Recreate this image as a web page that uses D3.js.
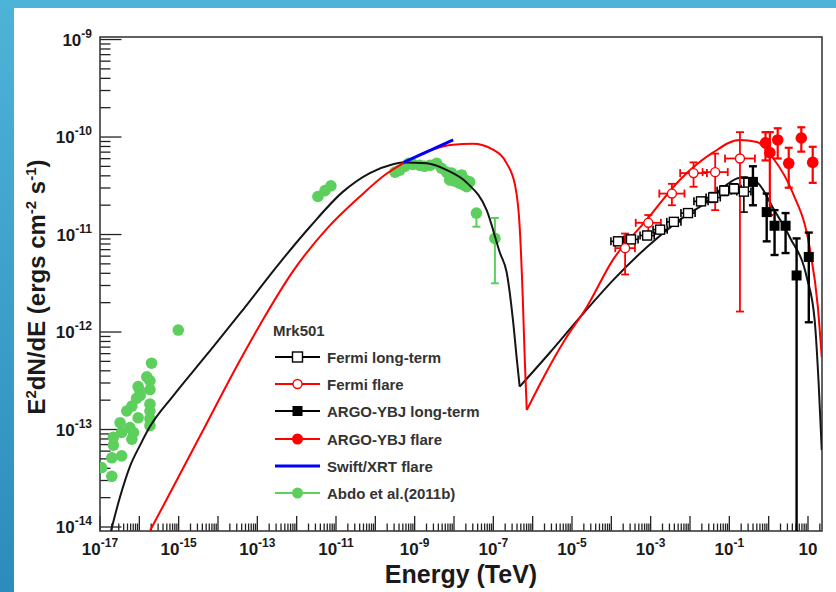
<!DOCTYPE html>
<html><head><meta charset="utf-8">
<script src="https://cdn.jsdelivr.net/npm/d3@7"></script>
<style>
body{margin:0;background:#fff}
svg{display:block}
text{font-family:"Liberation Sans",Arial,Helvetica,sans-serif;font-weight:bold}
</style>
</head><body>
<svg id="c" width="836" height="592"></svg>
<script>
// ---------- data (log10 E [TeV], log10 E^2dN/dE [erg cm^-2 s^-1]) ----------
const xLabelExps = [-17,-15,-13,-11,-9,-7,-5,-3,-1,1];
const yLabelExps = [-14,-13,-12,-11,-10,-9];

const modelLongTerm = [[-16.72,-14.04],[-16.49,-13.69],[-16.24,-13.38],[-15.98,-13.16],[-15.73,-12.97],[-15.15,-12.66],[-14.28,-12.23],[-13.44,-11.81],[-12.43,-11.29],[-11.66,-10.92],[-10.82,-10.56],[-10.14,-10.37],[-9.55,-10.28],[-9.30,-10.26],[-8.69,-10.27],[-8.18,-10.34],[-7.67,-10.47],[-7.17,-10.75],[-6.83,-11.19],[-6.66,-11.39],[-6.50,-11.88],[-6.40,-12.29],[-6.33,-12.56],[-5.56,-12.21],[-4.80,-11.85],[-3.96,-11.47],[-3.10,-11.13],[-2.26,-10.85],[-1.42,-10.62],[-1.07,-10.49],[-0.74,-10.42],[-0.48,-10.42],[-0.23,-10.49],[0.10,-10.72],[0.54,-11.03],[0.97,-11.44],[1.17,-11.88],[1.27,-12.52],[1.35,-13.21]];

const modelFlare = [[-15.73,-14.04],[-15.31,-13.72],[-14.46,-13.07],[-13.44,-12.29],[-12.81,-11.84],[-12.10,-11.38],[-11.23,-10.94],[-10.39,-10.61],[-9.76,-10.39],[-9.25,-10.26],[-8.69,-10.15],[-8.03,-10.08],[-7.52,-10.07],[-7.01,-10.13],[-6.66,-10.27],[-6.45,-10.49],[-6.33,-10.92],[-6.25,-11.67],[-6.20,-12.29],[-6.15,-12.80],[-5.69,-12.44],[-5.18,-12.08],[-4.62,-11.74],[-3.96,-11.26],[-3.10,-10.85],[-2.26,-10.44],[-1.42,-10.16],[-0.74,-10.03],[-0.30,-10.05],[0.10,-10.21],[0.61,-10.57],[1.04,-11.13],[1.25,-11.74],[1.35,-12.26]];

const swiftFlare = [[-9.28,-10.26],[-8.02,-10.03]];

const abdoPoints = [[-15.01,-11.98],[-15.69,-12.32],[-15.81,-12.46],[-15.73,-12.50],[-16.03,-12.56],[-15.73,-12.59],[-15.98,-12.61],[-16.07,-12.68],[-15.98,-12.65],[-15.73,-12.74],[-16.19,-12.76],[-15.73,-12.81],[-16.32,-12.81],[-16.03,-12.88],[-15.73,-12.89],[-16.49,-12.93],[-16.24,-12.98],[-15.73,-12.96],[-16.45,-13.03],[-16.15,-13.03],[-16.66,-13.08],[-16.19,-13.10],[-16.66,-13.16],[-16.45,-13.27],[-16.70,-13.29],[-16.96,-13.39],[-16.70,-13.48],
 [-11.46,-10.61],[-11.28,-10.55],[-11.13,-10.50],
 [-9.50,-10.36],[-9.38,-10.34],[-9.25,-10.30],[-9.15,-10.27],[-9.05,-10.28],[-8.87,-10.29],[-8.75,-10.30],[-8.61,-10.29],[-8.44,-10.27],[-8.32,-10.32],[-8.19,-10.36],[-8.11,-10.44],[-8.06,-10.37],[-8.00,-10.45],[-7.94,-10.41],[-7.88,-10.47],[-7.81,-10.39],[-7.76,-10.49],[-7.72,-10.44],[-7.68,-10.51],[-7.60,-10.46],[-7.43,-10.78],[-6.96,-11.04]];
// [logE, logF, low, high]
const abdoErrors = [[-7.81,-10.39,-10.43,-10.35],[-7.43,-10.78,-10.92,-10.76],[-6.96,-11.04,-11.50,-10.83]];

// [logE, logF, logE half-width, low, high]
const fermiLongTerm = [[-3.83,-11.07,0.18,-11.11,-11.03],[-3.50,-11.05,0.18,-11.09,-11.01],[-3.09,-11.01,0.18,-11.05,-10.97],[-2.76,-10.95,0.18,-10.99,-10.91],[-2.41,-10.87,0.18,-10.91,-10.83],[-2.05,-10.78,0.18,-10.82,-10.74],[-1.72,-10.66,0.18,-10.70,-10.62],[-1.41,-10.62,0.18,-10.67,-10.57],[-1.13,-10.55,0.18,-10.60,-10.50],[-0.88,-10.53,0.18,-10.58,-10.48],[-0.63,-10.56,0.18,-10.77,-10.41]];
const fermiFlare = [[-3.65,-11.14,0.25,-11.41,-10.99],[-3.06,-10.88,0.32,-11.02,-10.80],[-2.46,-10.58,0.32,-10.70,-10.48],[-1.91,-10.37,0.34,-10.51,-10.26],[-1.36,-10.36,0.32,-10.75,-10.17],[-0.73,-10.22,0.38,-11.79,-9.95]];
// [logE, logF, low, high]
const argoLongTerm = [[-0.40,-10.46,-10.70,-10.30],[-0.05,-10.77,-11.07,-10.58],[0.15,-10.91,-11.21,-10.75],[0.43,-10.91,-11.19,-10.78],[0.71,-11.42,-14.2,-11.04],[1.02,-11.23,-11.90,-10.98]];
const argoFlare = [[-0.08,-10.06,-10.24,-9.95],[0.03,-10.16,-10.80,-9.95],[0.23,-10.03,-10.22,-9.91],[0.51,-10.27,-10.52,-10.11],[0.83,-10.01,-10.15,-9.90],[1.12,-10.26,-10.47,-10.10]];

const legendTitle = "Mrk501";
const legendItems = ["Fermi long-term","Fermi flare","ARGO-YBJ long-term","ARGO-YBJ flare","Swift/XRT flare","Abdo et al.(2011b)"];

// ---------- drawing ----------
const svg = d3.select("#c");
const P = v => Math.pow(10, v);
const L = 100, R = 822, T = 37, B = 531;
const x = d3.scaleLog().domain([1e-17, P(1.356)]).range([L, R]);
const y = d3.scaleLog().domain([P(-14.041), P(-8.974)]).range([B, T]);

// slide background
const defs = svg.append("defs");
const gr = defs.append("linearGradient").attr("id","bg").attr("x1",0).attr("y1",0).attr("x2",0).attr("y2",1);
gr.append("stop").attr("offset","0%").attr("stop-color","#4db4d7");
gr.append("stop").attr("offset","100%").attr("stop-color","#2d8bbd");
svg.append("rect").attr("width",836).attr("height",592).attr("fill","url(#bg)");
svg.append("rect").attr("x",14).attr("y",8).attr("width",822).attr("height",584).attr("fill","#fff");
defs.append("clipPath").attr("id","clip").append("rect").attr("x",L).attr("y",T).attr("width",R-L).attr("height",B-T);

// ticks
const tk = svg.append("g").attr("stroke","#222").attr("stroke-width",1.3);
for (let d=-17; d<=1; d++) {
  for (let k=1; k<=9; k++) {
    const v = k*P(d);
    if (v < x.domain()[0] || v > x.domain()[1]) continue;
    const len = k===1 ? 15 : 7.5;
    tk.append("line").attr("x1",x(v)).attr("x2",x(v)).attr("y1",B).attr("y2",B-len);
  }
}
for (let d=-15; d<=-9; d++) {
  for (let k=1; k<=9; k++) {
    const v = k*P(d);
    if (v < y.domain()[0] || v > y.domain()[1]) continue;
    const len = k===1 ? 21.5 : 10.5;
    tk.append("line").attr("y1",y(v)).attr("y2",y(v)).attr("x1",L).attr("x2",L+len);
  }
}
// frame
svg.append("rect").attr("x",L).attr("y",T).attr("width",R-L).attr("height",B-T)
  .attr("fill","none").attr("stroke","#3a3a3a").attr("stroke-width",1.6);

// tick labels
xLabelExps.forEach(e => {
  const t = svg.append("text").attr("x",x(P(e))).attr("y",555).attr("text-anchor","middle")
    .attr("fill","#1a1a1a").style("font-size","17px");
  t.append("tspan").text("10");
  if (e !== 1) t.append("tspan").attr("dy",-8).style("font-size","12px").text(String(e));
});
yLabelExps.forEach(e => {
  const t = svg.append("text").attr("x",92).attr("y",y(P(e))+6).attr("text-anchor","end")
    .attr("fill","#1a1a1a").style("font-size","17px");
  t.append("tspan").text("10");
  t.append("tspan").attr("dy",-8).style("font-size","12px").text(String(e));
});

// axis titles
svg.append("text").attr("x",461).attr("y",583).attr("text-anchor","middle")
  .attr("fill","#1a1a1a").style("font-size","25px").text("Energy (TeV)");
const yt = svg.append("text").attr("transform","translate(45,287) rotate(-90)").attr("text-anchor","middle")
  .attr("fill","#1a1a1a").style("font-size","24px");
yt.append("tspan").text("E");
yt.append("tspan").attr("dy",-9).style("font-size","15px").text("2");
yt.append("tspan").attr("dy",9).text("dN/dE (ergs cm");
yt.append("tspan").attr("dy",-9).style("font-size","15px").text("-2");
yt.append("tspan").attr("dy",9).text(" s");
yt.append("tspan").attr("dy",-9).style("font-size","15px").text("-1");
yt.append("tspan").attr("dy",9).text(")");

// plot contents
const plot = svg.append("g").attr("clip-path","url(#clip)");
const line = d3.line().x(d=>x(P(d[0]))).y(d=>y(P(d[1]))).curve(d3.curveMonotoneX);

// green data
const green = "#5ccf5c";
abdoErrors.forEach(d => {
  plot.append("line").attr("x1",x(P(d[0]))).attr("x2",x(P(d[0]))).attr("y1",y(P(d[2]))).attr("y2",y(P(d[3])))
    .attr("stroke",green).attr("stroke-width",2);
  [d[2],d[3]].forEach(v => plot.append("line").attr("x1",x(P(d[0]))-4).attr("x2",x(P(d[0]))+4)
    .attr("y1",y(P(v))).attr("y2",y(P(v))).attr("stroke",green).attr("stroke-width",2));
});
plot.selectAll(".ab").data(abdoPoints).join("circle")
  .attr("cx",d=>x(P(d[0]))).attr("cy",d=>y(P(d[1]))).attr("r",5.8).attr("fill",green);

// models: split at the synchrotron/IC dip so the dip stays sharp
function drawModel(pts, col) {
  let k = 0, best = Infinity;
  pts.forEach((d,i) => { if (d[0] > -7 && d[0] < -5 && d[1] < best) { best = d[1]; k = i; } });
  [pts.slice(0,k+1), pts.slice(k)].forEach(seg =>
    plot.append("path").attr("d",line(seg)).attr("fill","none").attr("stroke",col)
      .attr("stroke-width",2).attr("stroke-linejoin","round"));
}
drawModel(modelLongTerm, "#151515");
drawModel(modelFlare, "#ff0000");
plot.append("path").attr("d",line(swiftFlare)).attr("fill","none").attr("stroke","#0000ff").attr("stroke-width",3);

// error bar helper
function ebars(data, col, sw, hasX) {
  data.forEach(d => {
    const cx = x(P(d[0])), cy = y(P(d[1]));
    const lo = hasX ? d[3] : d[2], hi = hasX ? d[4] : d[3];
    plot.append("line").attr("x1",cx).attr("x2",cx).attr("y1",y(P(lo))).attr("y2",y(P(hi))).attr("stroke",col).attr("stroke-width",sw);
    [lo,hi].forEach(v => plot.append("line").attr("x1",cx-4).attr("x2",cx+4).attr("y1",y(P(v))).attr("y2",y(P(v))).attr("stroke",col).attr("stroke-width",sw));
    if (hasX) {
      const x1 = x(P(d[0]-d[2])), x2 = x(P(d[0]+d[2]));
      plot.append("line").attr("x1",x1).attr("x2",x2).attr("y1",cy).attr("y2",cy).attr("stroke",col).attr("stroke-width",sw);
      [x1,x2].forEach(v => plot.append("line").attr("x1",v).attr("x2",v).attr("y1",cy-4).attr("y2",cy+4).attr("stroke",col).attr("stroke-width",sw));
    }
  });
}
ebars(fermiLongTerm, "#000", 1.6, true);
ebars(fermiFlare, "#ff0000", 1.8, true);
ebars(argoLongTerm, "#000", 2.4, false);
ebars(argoFlare, "#ff0000", 2.2, false);

plot.selectAll(".flt").data(fermiLongTerm).join("rect")
  .attr("x",d=>x(P(d[0]))-4.5).attr("y",d=>y(P(d[1]))-4.5).attr("width",9).attr("height",9)
  .attr("fill","#fff").attr("stroke","#000").attr("stroke-width",1.4);
plot.selectAll(".ff").data(fermiFlare).join("circle")
  .attr("cx",d=>x(P(d[0]))).attr("cy",d=>y(P(d[1]))).attr("r",4.5)
  .attr("fill","#fff").attr("stroke","#ff0000").attr("stroke-width",1.4);
plot.selectAll(".alt").data(argoLongTerm).join("rect")
  .attr("x",d=>x(P(d[0]))-5).attr("y",d=>y(P(d[1]))-5).attr("width",10).attr("height",10).attr("fill","#000");
plot.selectAll(".af").data(argoFlare).join("circle")
  .attr("cx",d=>x(P(d[0]))).attr("cy",d=>y(P(d[1]))).attr("r",5.8).attr("fill","#ff0000");

// legend
const lg = svg.append("g");
lg.append("text").attr("x",273).attr("y",336).attr("fill","#333").style("font-size","15px").text(legendTitle);
const rowY = [357,384,411,439,466,493];
const lcol = ["#000","#ff0000","#000","#ff0000","#0000ff",green];
legendItems.forEach((name,i) => {
  const yy = rowY[i];
  lg.append("line").attr("x1",275).attr("x2",320).attr("y1",yy).attr("y2",yy)
    .attr("stroke",lcol[i]).attr("stroke-width", i===4 ? 3 : 2);
  if (i===0) lg.append("rect").attr("x",292.5).attr("y",yy-5).attr("width",10).attr("height",10).attr("fill","#fff").attr("stroke","#000").attr("stroke-width",1.4);
  if (i===1) lg.append("circle").attr("cx",297.5).attr("cy",yy).attr("r",4.5).attr("fill","#fff").attr("stroke","#ff0000").attr("stroke-width",1.4);
  if (i===2) lg.append("rect").attr("x",292.5).attr("y",yy-5).attr("width",10).attr("height",10).attr("fill","#000");
  if (i===3) lg.append("circle").attr("cx",297.5).attr("cy",yy).attr("r",5.5).attr("fill","#ff0000");
  if (i===5) lg.append("circle").attr("cx",297.5).attr("cy",yy).attr("r",5.5).attr("fill",green);
  lg.append("text").attr("x",327).attr("y",yy+5.5).attr("fill","#333").style("font-size","15px").text(name);
});
</script>
</body></html>
